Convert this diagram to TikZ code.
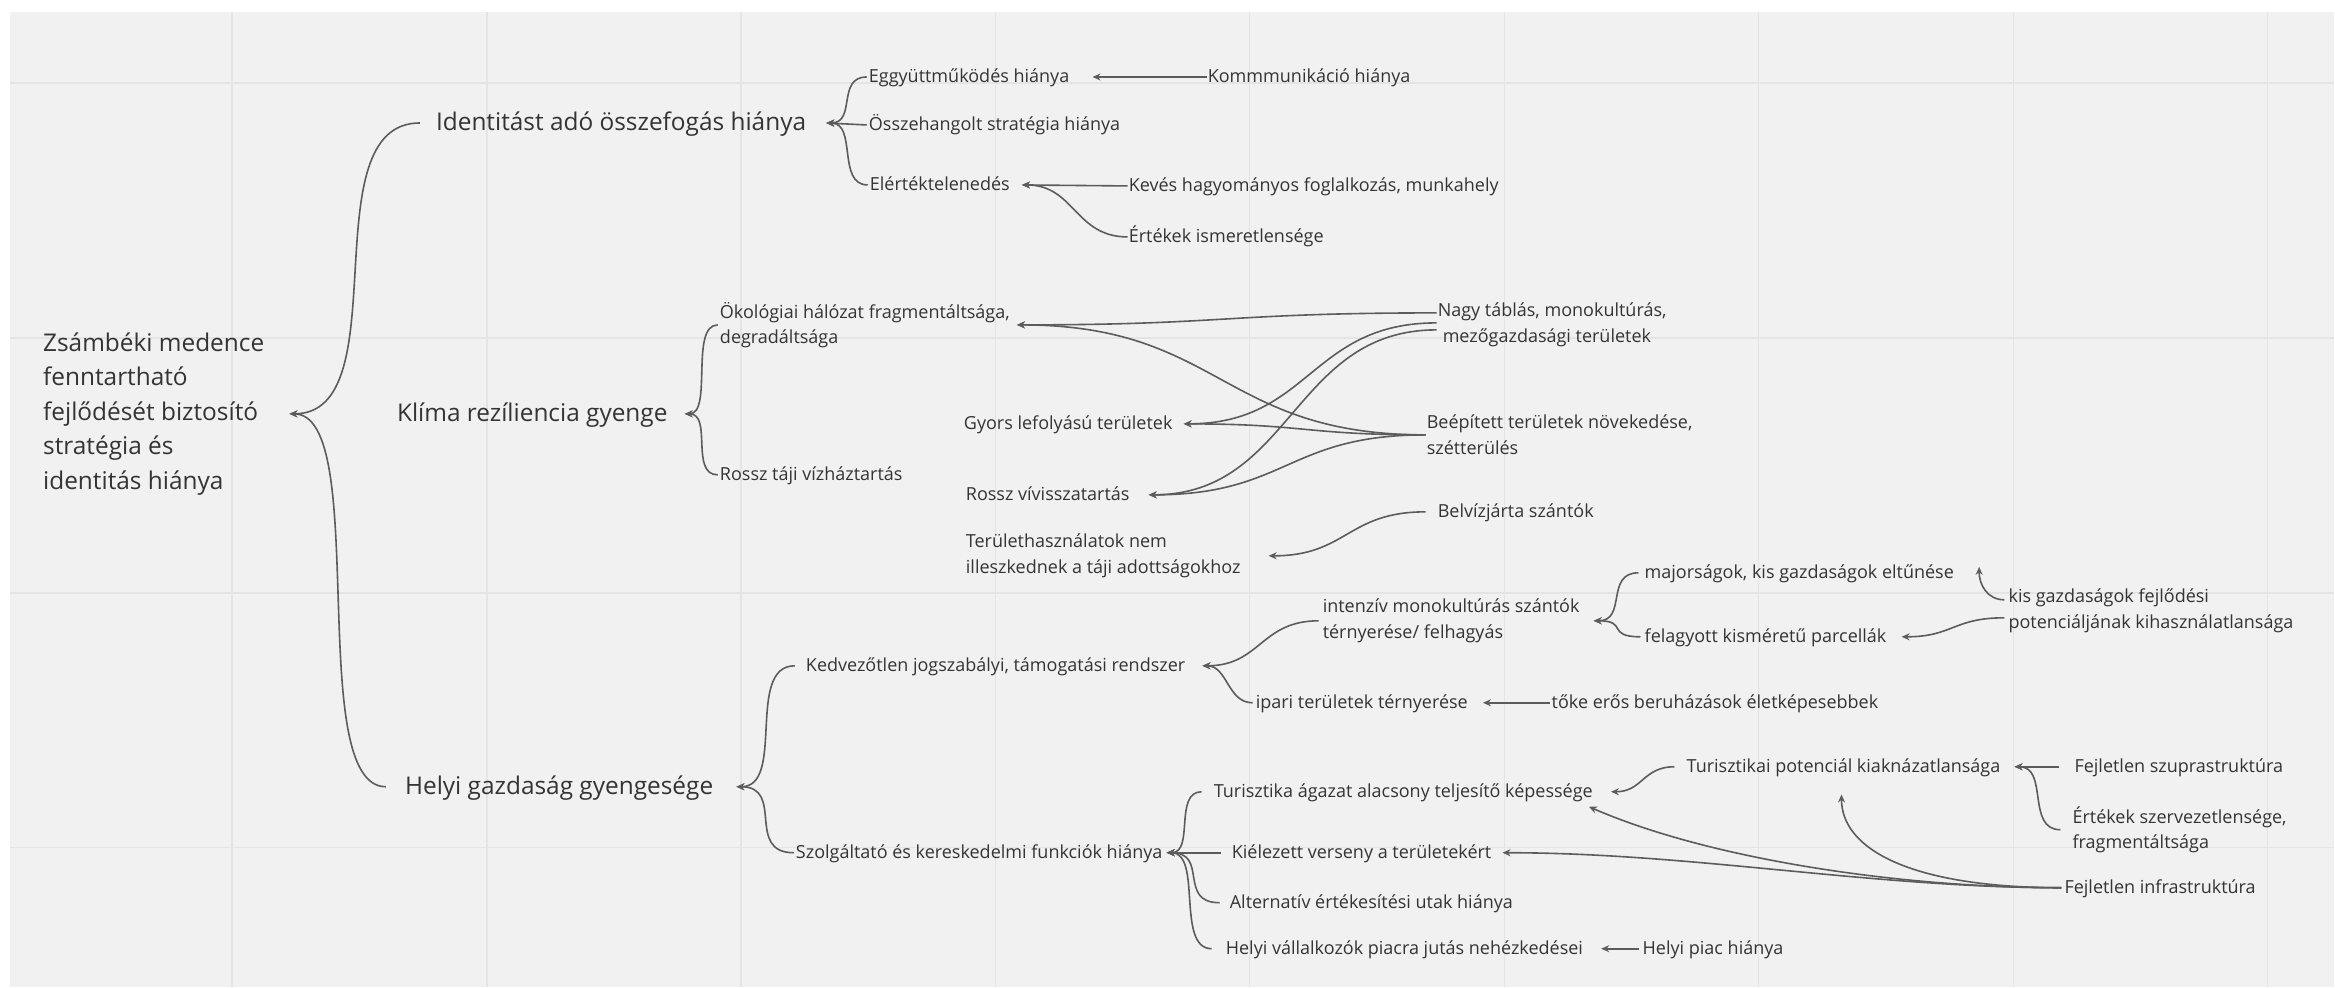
\documentclass[tikz,border=0pt]{standalone}
\usepackage{fontspec}
\setmainfont{Open Sans}
\usetikzlibrary{arrows.meta,calc}
\definecolor{bg}{HTML}{F1F1F1}
\definecolor{gridc}{HTML}{E4E4E4}
\definecolor{txt}{HTML}{343434}
\definecolor{ln}{HTML}{5C5C5C}
\begin{document}
\begin{tikzpicture}[x=1pt,y=-1pt,
  big/.style={font=\fontsize{24.4}{34.5}\selectfont, text=txt, inner sep=0pt, anchor=west},
  bigl/.style={big, text height=19pt, text depth=4pt},
  sm/.style={font=\fontsize{18}{25.5}\selectfont, text=txt, inner sep=0pt, anchor=west},
  sml/.style={sm, text height=14pt, text depth=3pt},
  smm/.style={sm, align=left},
  conn/.style={draw=ln, line width=1.6pt, -{Stealth[length=8pt,width=7pt]}},
  curve/.style={to path={let \p1=(\tikztostart), \p2=(\tikztotarget) in .. controls ({\x1+(\x2-\x1)*#1},\y1) and ({\x2-(\x2-\x1)*#1},\y2) .. (\tikztotarget)}},
  curve/.default=0.5,
  ]
\fill[white] (0,0) rectangle (2335,987);
\fill[bg] (10,12) rectangle (2335,987);
\foreach \gx in {232,487,741,996,1250,1505,1759,2014,2268} \draw[gridc, line width=1.5pt] (\gx,12) -- (\gx,987);
\foreach \gy in {83,338,593,848} \draw[gridc, line width=1.5pt] (10,\gy) -- (2335,\gy);
\useasboundingbox (0,0) rectangle (2335,987);

% level 0 / 1
\node[big, align=left] (root) at (43,414) {Zsámbéki medence\\fenntartható\\fejlődését biztosító\\stratégia és\\identitás hiánya};
\node[bigl] (ident) at (436,123) {Identitást adó összefogás hiánya};
\node[bigl] (klima) at (397,414) {Klíma rezíliencia gyenge};
\node[bigl] (helyi) at (405,787) {Helyi gazdaság gyengesége};

% identity branch
\node[sml] (eggy) at (869,77) {Eggyüttműködés hiánya};
\node[sml] (ossze) at (869,125) {Összehangolt stratégia hiánya};
\node[sml] (elert) at (870,185) {Elértéktelenedés};
\node[sml] (komm) at (1208,77) {Kommmunikáció hiánya};
\node[sml] (keves) at (1129,186) {Kevés hagyományos foglalkozás, munkahely};
\node[sml] (ertism) at (1129,237) {Értékek ismeretlensége};

% climate branch
\node[smm] (okol) at (720,325) {Ökológiai hálózat fragmentáltsága,\\degradáltsága};
\node[sml] (rtaji) at (720,475) {Rossz táji vízháztartás};
\node[sml] (gyors) at (964,424) {Gyors lefolyású területek};
\node[sml] (rviv) at (966,495) {Rossz vívisszatartás};
\node[smm] (terh) at (966,556) {Területhasználatok nem\\illeszkednek a táji adottságokhoz};
\node[smm] (nagy) at (1438,325) {Nagy táblás, monokultúrás,\\\hspace*{5pt}mezőgazdasági területek};
\node[smm] (beep) at (1427,435) {Beépített területek növekedése,\\szétterülés};
\node[sml] (belviz) at (1438,512) {Belvízjárta szántók};

% economy branch
\node[sml] (kedv) at (806,666) {Kedvezőtlen jogszabályi, támogatási rendszer};
\node[sml] (szolg) at (796,853) {Szolgáltató és kereskedelmi funkciók hiánya};
\node[smm] (intenz) at (1323,621) {intenzív monokultúrás szántók\\térnyerése/ felhagyás};
\node[sml] (major) at (1645,573) {majorságok, kis gazdaságok eltűnése};
\node[sml] (felagy) at (1645,637) {felagyott kisméretű parcellák};
\node[smm] (kisg) at (2009,611) {kis gazdaságok fejlődési\\potenciáljának kihasználatlansága};
\node[sml] (ipari) at (1256,703) {ipari területek térnyerése};
\node[sml] (toke) at (1552,703) {tőke erős beruházások életképesebbek};

\node[sml] (turag) at (1214,792) {Turisztika ágazat alacsony teljesítő képessége};
\node[sml] (kielez) at (1232,853) {Kiélezett verseny a területekért};
\node[sml] (altern) at (1230,903) {Alternatív értékesítési utak hiánya};
\node[sml] (helyiv) at (1226,949) {Helyi vállalkozók piacra jutás nehézkedései};
\node[sml] (helyip) at (1643,949) {Helyi piac hiánya};
\node[sml] (turpot) at (1687,767) {Turisztikai potenciál kiaknázatlansága};
\node[sml] (fszupra) at (2075,767) {Fejletlen szuprastruktúra};
\node[smm] (ertsz) at (2073,830) {Értékek szervezetlensége,\\fragmentáltsága};
\node[sml] (finfra) at (2065,888) {Fejletlen infrastruktúra};

% arrow tips
\coordinate (roottip) at ([xshift=25pt]root.east);
\coordinate (identtip) at ([xshift=20pt]ident.east);
\coordinate (eggytip) at ([xshift=23pt]eggy.east);
\coordinate (elerttip) at ([xshift=12pt]elert.east);
\coordinate (klimatip) at ([xshift=17pt]klima.east);
\coordinate (okoltip) at ([xshift=7pt]okol.east);
\coordinate (gyorstip) at ([xshift=11pt]gyors.east);
\coordinate (rvivtip) at ([xshift=19pt]rviv.east);
\coordinate (terhtip) at ([xshift=28pt]terh.east);
\coordinate (helyitip) at ([xshift=23pt]helyi.east);
\coordinate (kedvtip) at ([xshift=17pt]kedv.east);
\coordinate (intenztip) at ([xshift=14pt]intenz.east);
\coordinate (majortip) at ([shift={(25pt,6pt)}]major.east);
\coordinate (felagytip) at ([xshift=15pt]felagy.east);
\coordinate (iparitip) at ([xshift=15pt]ipari.east);
\coordinate (szolgtip) at ([xshift=4pt]szolg.east);
\coordinate (turagtip) at ([xshift=18pt]turag.east);
\coordinate (turagtip2) at ([shift={(-4pt,-15pt)}]turag.east);
\coordinate (kieleztip) at ([xshift=11pt]kielez.east);
\coordinate (helyivtip) at ([xshift=18pt]helyiv.east);
\coordinate (turpottip) at ([xshift=14pt]turpot.east);
\coordinate (turpottip2) at ([shift={(-2pt,-19pt)}]turpot.south);

% connectors
\draw[conn] ([xshift=-16pt]ident.west) to[curve=0.85] (roottip);
\draw[conn] ([xshift=-19pt]helyi.west) to[curve=0.85] (roottip);
\draw[conn] ([xshift=-2pt]eggy.west) to[curve=0.75] (identtip);
\draw[conn] ([xshift=-2pt]ossze.west) -- (identtip);
\draw[conn] ([xshift=-2pt]elert.west) to[curve=0.75] (identtip);
\draw[conn] ([xshift=-1pt]komm.west) -- (eggytip);
\draw[conn] ([xshift=-1pt]keves.west) -- (elerttip);
\draw[conn] ([xshift=-1pt]ertism.west) to[curve] (elerttip);
\draw[conn] ([xshift=-2pt]okol.west) to[curve=0.85] (klimatip);
\draw[conn] ([xshift=-2pt]rtaji.west) to[curve=0.85] (klimatip);

\draw[conn] ([shift={(-1pt,12pt)}]nagy.west) to[curve] (okoltip);
\draw[conn] ([shift={(-1pt,2pt)}]nagy.west) to[curve] (gyorstip);
\draw[conn] ([shift={(-1pt,-5pt)}]nagy.west) to[curve] (rvivtip);
\draw[conn] ([xshift=-1pt]beep.west) to[curve] (okoltip);
\draw[conn] ([xshift=-1pt]beep.west) to[curve] (gyorstip);
\draw[conn] ([xshift=-1pt]beep.west) to[curve] (rvivtip);
\draw[conn] ([xshift=-12pt]belviz.west) to[curve] (terhtip);

\draw[conn] ([xshift=-11pt]kedv.west) to[curve=0.85] (helyitip);
\draw[conn] ([xshift=-2pt]szolg.west) to[curve=0.85] (helyitip);
\draw[conn] ([xshift=-4pt]intenz.west) to[curve] (kedvtip);
\draw[conn] ([xshift=-3pt]ipari.west) to[curve] (kedvtip);
\draw[conn] ([xshift=-6pt]major.west) to[curve=0.75] (intenztip);
\draw[conn] ([xshift=-4pt]felagy.west) to[curve=0.75] (intenztip);
\draw[conn] ([shift={(-4pt,11pt)}]kisg.west) .. controls +(-17,0) and +(0,18) .. (majortip);
\draw[conn] ([shift={(-4pt,-7pt)}]kisg.west) to[curve] (felagytip);
\draw[conn] ([xshift=-2pt]toke.west) -- (iparitip);

\draw[conn] ([xshift=-12pt]turag.west) to[curve=0.8] (szolgtip);
\draw[conn] ([xshift=-11pt]kielez.west) -- (szolgtip);
\draw[conn] ([xshift=-10pt]altern.west) to[curve=0.8] (szolgtip);
\draw[conn] ([xshift=-14pt]helyiv.west) to[curve=0.8] (szolgtip);
\draw[conn] ([xshift=-12pt]turpot.west) to[curve] (turagtip);
\draw[conn] ([xshift=-15pt]fszupra.west) -- (turpottip);
\draw[conn] ([xshift=-12pt]ertsz.west) to[curve=0.75] (turpottip);
\draw[conn] ([xshift=-3pt]finfra.west) .. controls +(-160,0) and +(122,53) .. (turagtip2);
\draw[conn] ([xshift=-3pt]finfra.west) .. controls +(-150,0) and +(0,55) .. (turpottip2);
\draw[conn] ([xshift=-3pt]finfra.west) .. controls +(-190,0) and +(190,0) .. (kieleztip);
\draw[conn] ([xshift=-3pt]helyip.west) -- (helyivtip);
\end{tikzpicture}
\end{document}
